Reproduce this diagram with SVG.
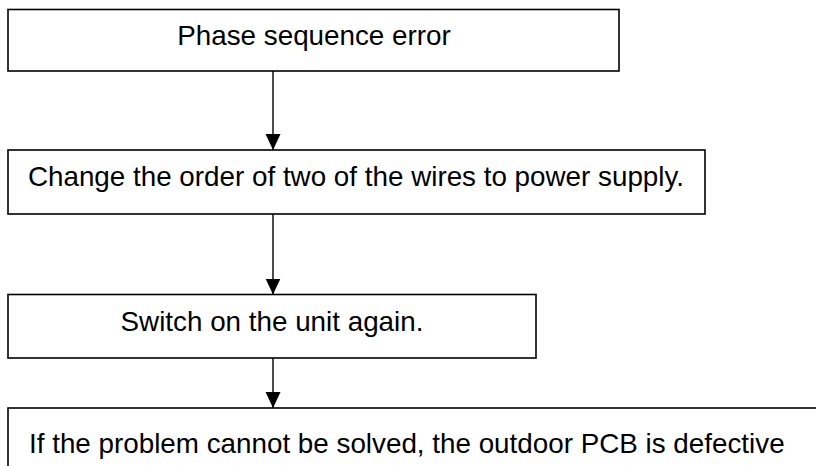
<svg xmlns="http://www.w3.org/2000/svg" width="816" height="466" viewBox="0 0 816 466">
<style>
.box{fill:#fff;stroke:#000;stroke-width:1.6}
.lbl{font-family:"Liberation Sans",Arial,sans-serif;font-size:27.8px;fill:#000}
.c{text-anchor:middle}
.edge{stroke:#000;stroke-width:1.4;fill:none}
</style>
<defs>
<marker id="ah" markerUnits="userSpaceOnUse" markerWidth="16" markerHeight="18" refX="16" refY="7.5" orient="auto">
<path d="M0,0 L16,7.5 L0,15 Z" fill="#000"/>
</marker>
</defs>
<rect width="816" height="466" fill="#fff"/>
<g id="connectors">
<line class="edge" x1="273" y1="71" x2="273" y2="150" marker-end="url(#ah)"/>
<line class="edge" x1="273" y1="214" x2="273" y2="294.5" marker-end="url(#ah)"/>
<line class="edge" x1="273" y1="358" x2="273" y2="408" marker-end="url(#ah)"/>
</g>
<g id="n1">
<rect class="box" x="8" y="9.5" width="611" height="61.5"/>
<text class="lbl c" x="314" y="44.5">Phase sequence error</text>
</g>
<g id="n2">
<rect class="box" x="8" y="150" width="697" height="64"/>
<text class="lbl c" x="356" y="186">Change the order of two of the wires to power supply.</text>
</g>
<g id="n3">
<rect class="box" x="8" y="294.5" width="528" height="63.5"/>
<text class="lbl c" x="272" y="331">Switch on the unit again.</text>
</g>
<g id="n4">
<rect class="box" x="8" y="408" width="830" height="80"/>
<text class="lbl" x="29" y="453">If the problem cannot be solved, the outdoor PCB is defective</text>
</g>
</svg>
